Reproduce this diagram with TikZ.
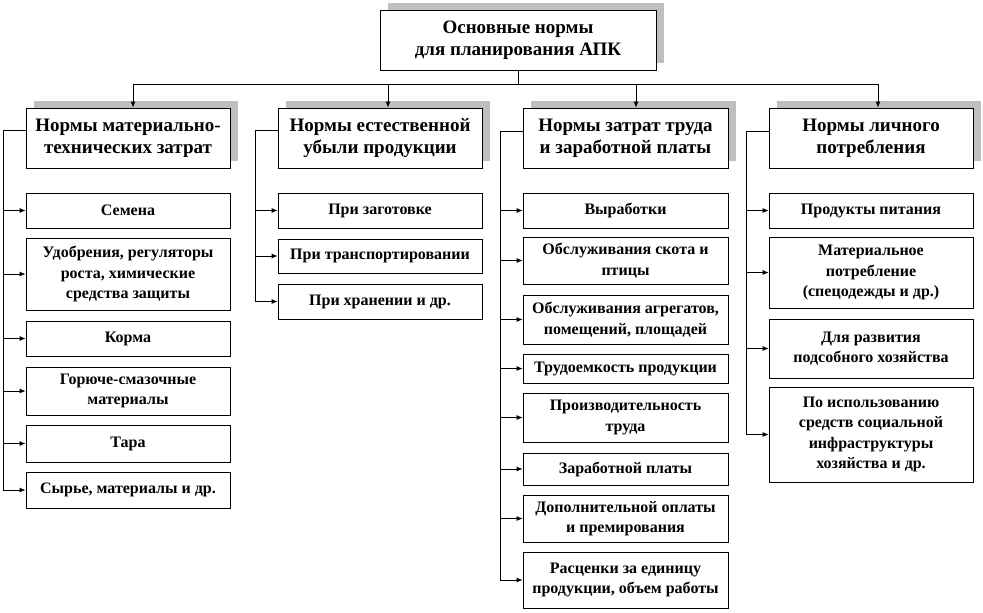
\documentclass[tikz,border=0pt]{standalone}
\usepackage{fontspec}
\setmainfont{Liberation Serif}
\usetikzlibrary{arrows.meta,calc,shadows}
\tikzset{
  box/.style={draw=black, line width=0.8pt, fill=white, inner sep=1pt, align=center,
    font=\bfseries\fontsize{16}{20.5}\selectfont},
  hbox/.style={box, font=\bfseries\fontsize{19}{22}\selectfont,
    drop shadow={shadow xshift=8pt, shadow yshift=7pt, fill=gray!50, opacity=1}},
  wire/.style={line width=0.8pt},
  link/.style={line width=0.8pt, -{Latex[length=6pt,width=5pt]}},
}
\begin{document}
\begin{tikzpicture}[x=1pt,y=-1pt]
\useasboundingbox (0,0) rectangle (983,613);
% top
\node[hbox, minimum width=276pt, minimum height=60pt] (top) at (518,40) {Основные нормы\\для планирования АПК};
% headers
\node[hbox, minimum width=204pt, minimum height=60pt] (h1) at (128,138) {Нормы материально-\\технических затрат};
\node[hbox, minimum width=204pt, minimum height=60pt] (h2) at (380,138) {Нормы естественной\\убыли продукции};
\node[hbox, minimum width=205pt, minimum height=60pt] (h3) at (625.5,138) {Нормы затрат труда\\и заработной платы};
\node[hbox, minimum width=204pt, minimum height=60pt] (h4) at (871,138) {Нормы личного\\потребления};
% bus
\coordinate (stem) at (518,84);
\coordinate (b1) at (133,84);
\coordinate (b2) at (388,84);
\coordinate (b3) at (636,84);
\coordinate (b4) at (878,84);
\draw[wire] (top.south) -- (stem);
\draw[wire] (b1) -- (b4);
\draw[link] (b1) -- (b1 |- h1.north);
\draw[link] (b2) -- (b2 |- h2.north);
\draw[link] (b3) -- (b3 |- h3.north);
\draw[link] (b4) -- (b4 |- h4.north);
% column 1
\node[box, minimum width=204pt, minimum height=35pt] (c1a) at (128,210.5) {Семена};
\node[box, minimum width=204pt, minimum height=72pt] (c1b) at (128,274) {Удобрения, регуляторы\\роста, химические\\средства защиты};
\node[box, minimum width=204pt, minimum height=35pt] (c1c) at (128,338.5) {Корма};
\node[box, minimum width=204pt, minimum height=48pt] (c1d) at (128,391) {Горюче-смазочные\\материалы};
\node[box, minimum width=204pt, minimum height=37pt] (c1e) at (128,443.5) {Тара};
\node[box, minimum width=204pt, minimum height=36pt] (c1f) at (128,490) {Сырье, материалы и др.};
% column 2
\node[box, minimum width=204pt, minimum height=35pt] (c2a) at (380,210.5) {При заготовке};
\node[box, minimum width=204pt, minimum height=34pt] (c2b) at (380,256) {При транспортировании};
\node[box, minimum width=204pt, minimum height=35pt] (c2c) at (380,301.5) {При хранении  и др.};
% column 3
\node[box, minimum width=205pt, minimum height=35pt] (c3a) at (625.5,210.5) {Выработки};
\node[box, minimum width=205pt, minimum height=47pt] (c3b) at (625.5,260.5) {Обслуживания  скота и\\птицы};
\node[box, minimum width=205pt, minimum height=49pt] (c3c) at (625.5,319.5) {Обслуживания  агрегатов,\\помещений, площадей};
\node[box, minimum width=205pt, minimum height=29pt] (c3d) at (625.5,368.5) {Трудоемкость продукции};
\node[box, minimum width=205pt, minimum height=49pt] (c3e) at (625.5,417.5) {Производительность\\труда};
\node[box, minimum width=205pt, minimum height=32pt] (c3f) at (625.5,469) {Заработной  платы};
\node[box, minimum width=205pt, minimum height=47pt] (c3g) at (625.5,518.5) {Дополнительной  оплаты\\и премирования};
\node[box, minimum width=205pt, minimum height=56pt] (c3h) at (625.5,580) {Расценки за единицу\\продукции,  объем работы};
% column 4
\node[box, minimum width=204pt, minimum height=35pt] (c4a) at (871,210.5) {Продукты  питания};
\node[box, minimum width=204pt, minimum height=71pt] (c4b) at (871,272.5) {Материальное\\потребление\\(спецодежды  и др.)};
\node[box, minimum width=204pt, minimum height=59pt] (c4c) at (871,348.5) {Для развития\\подсобного хозяйства};
\node[box, minimum width=204pt, minimum height=95pt] (c4d) at (871,434.5) {По использованию\\средств социальной\\инфраструктуры\\хозяйства  и др.};
% trunks
\coordinate (t1) at (3,130);
\coordinate (t2) at (255,130);
\coordinate (t3) at (500,131);
\coordinate (t4) at (746,131);
\draw[wire] (h1.west |- t1) -- (t1) -- (t1 |- c1f.west);
\draw[wire] (h2.west |- t2) -- (t2) -- (t2 |- c2c.west);
\draw[wire] (h3.west |- t3) -- (t3) -- (t3 |- c3h.west);
\draw[wire] (h4.west |- t4) -- (t4) -- (t4 |- c4d.west);
\foreach \c in {c1a,c1b,c1c,c1d,c1e,c1f} \draw[link] (t1 |- \c.west) -- (\c.west);
\foreach \c in {c2a,c2b,c2c} \draw[link] (t2 |- \c.west) -- (\c.west);
\foreach \c in {c3a,c3b,c3c,c3d,c3e,c3f,c3g,c3h} \draw[link] (t3 |- \c.west) -- (\c.west);
\foreach \c in {c4a,c4b,c4c,c4d} \draw[link] (t4 |- \c.west) -- (\c.west);
\end{tikzpicture}
\end{document}
